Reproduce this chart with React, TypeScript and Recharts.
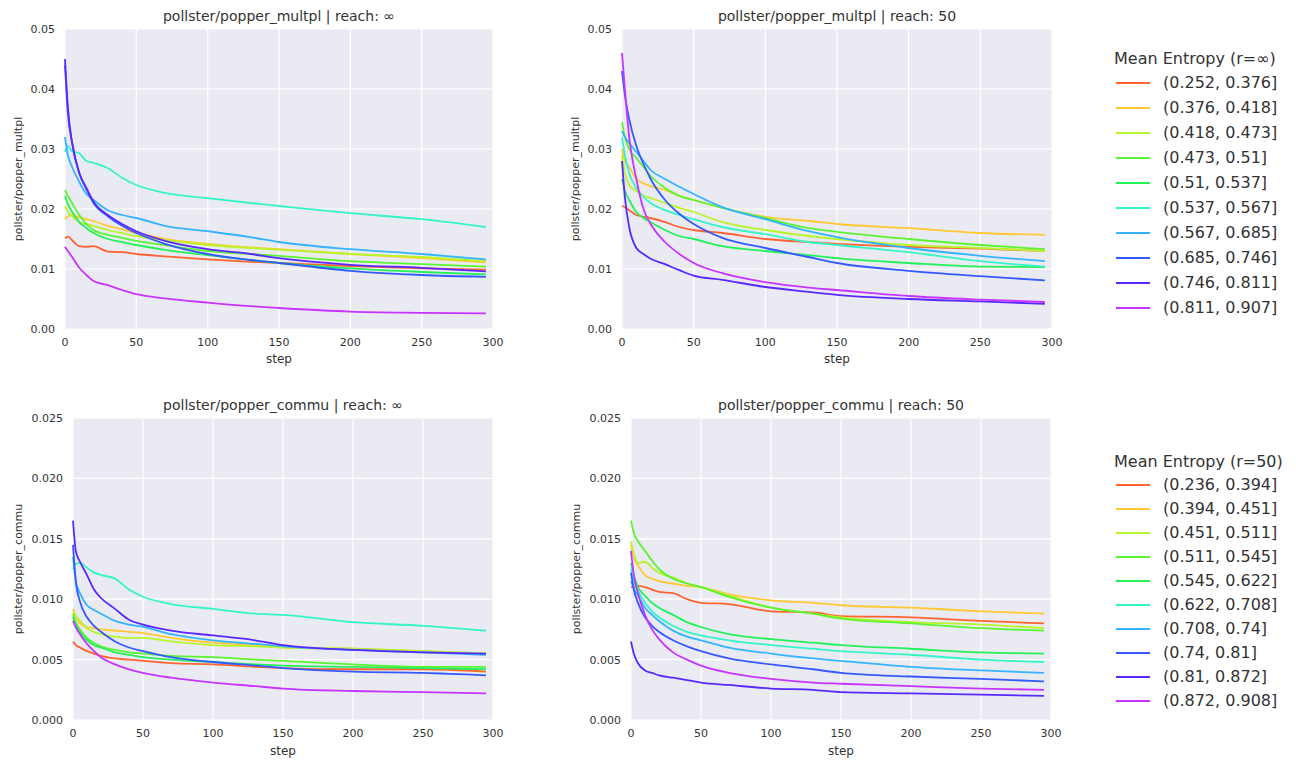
import { CartesianGrid, Line, LineChart, XAxis, YAxis } from 'recharts'

const steps = [0, 2, 5, 10, 15, 20, 30, 40, 50, 70, 100, 130, 150, 200, 250, 295]

const colors = [
  '#ff6430', '#ffc830', '#b8f52a', '#5af530', '#24f05a',
  '#34f5c8', '#34b4ff', '#345aff', '#5a28ff', '#c834ff',
]

const binsInf = [
  '(0.252, 0.376]', '(0.376, 0.418]', '(0.418, 0.473]', '(0.473, 0.51]', '(0.51, 0.537]',
  '(0.537, 0.567]', '(0.567, 0.685]', '(0.685, 0.746]', '(0.746, 0.811]', '(0.811, 0.907]',
]

const bins50 = [
  '(0.236, 0.394]', '(0.394, 0.451]', '(0.451, 0.511]', '(0.511, 0.545]', '(0.545, 0.622]',
  '(0.622, 0.708]', '(0.708, 0.74]', '(0.74, 0.81]', '(0.81, 0.872]', '(0.872, 0.908]',
]

// pollster/popper_multpl, reach ∞
const multplInf = [
  [0.0151, 0.0154, 0.0148, 0.0138, 0.0137, 0.0138, 0.0129, 0.0128, 0.0125, 0.0121, 0.0116, 0.0112, 0.011, 0.0105, 0.0101, 0.0099],
  [0.0183, 0.0188, 0.019, 0.0186, 0.0183, 0.018, 0.0172, 0.0166, 0.016, 0.015, 0.0142, 0.0136, 0.0133, 0.0125, 0.0118, 0.0111],
  [0.0205, 0.0196, 0.0188, 0.0178, 0.0175, 0.0172, 0.0165, 0.016, 0.0155, 0.0148, 0.014, 0.0135, 0.0132, 0.0125, 0.012, 0.0113],
  [0.0232, 0.0222, 0.021, 0.019, 0.0175, 0.0165, 0.0157, 0.0152, 0.0147, 0.014, 0.013, 0.0125, 0.0122, 0.0113, 0.0108, 0.0104],
  [0.0222, 0.0208, 0.0195, 0.0178, 0.0168, 0.016, 0.015, 0.0145, 0.014, 0.0132, 0.0123, 0.0115, 0.011, 0.0101, 0.0095, 0.0091],
  [0.0295, 0.0305, 0.0296, 0.0293, 0.028, 0.0277, 0.0268, 0.0252, 0.024, 0.0227, 0.0218, 0.021, 0.0205, 0.0193, 0.0183, 0.017],
  [0.032, 0.029, 0.027, 0.0245, 0.0225, 0.0215, 0.0198, 0.019, 0.0185, 0.0172, 0.0163, 0.0153, 0.0145, 0.0133, 0.0125, 0.0116],
  [0.044, 0.036, 0.031, 0.026, 0.0233, 0.021, 0.0188, 0.0172, 0.016, 0.0142, 0.0125, 0.0115, 0.011, 0.0097, 0.009, 0.0087],
  [0.045, 0.037, 0.031, 0.026, 0.0235, 0.0212, 0.019, 0.0175, 0.0163, 0.0147, 0.0133, 0.0125, 0.0118, 0.0107, 0.0102, 0.0096],
  [0.0137, 0.013, 0.012, 0.0102, 0.009, 0.008, 0.0073, 0.0065, 0.0058, 0.0051, 0.0044, 0.0038, 0.0035, 0.0029, 0.0027, 0.0026],
]

// pollster/popper_multpl, reach 50
const multpl50 = [
  [0.0205, 0.0203, 0.0198, 0.019, 0.0187, 0.0185, 0.0178, 0.017, 0.0165, 0.016, 0.015, 0.0145, 0.0142, 0.0137, 0.0134, 0.013],
  [0.03, 0.028, 0.027, 0.025, 0.0243, 0.0238, 0.0232, 0.0222, 0.0215, 0.0202, 0.0187, 0.018, 0.0175, 0.0168, 0.016, 0.0157],
  [0.029, 0.026, 0.024, 0.023, 0.0222, 0.0218, 0.021, 0.0202, 0.0195, 0.0178, 0.0165, 0.0155, 0.015, 0.014, 0.0135, 0.013],
  [0.0345, 0.032, 0.03, 0.0285, 0.027, 0.0255, 0.0235, 0.0222, 0.0215, 0.0202, 0.0185, 0.0168, 0.0162, 0.015, 0.014, 0.0133],
  [0.025, 0.023, 0.0215, 0.0195, 0.0185, 0.0178, 0.0165, 0.0155, 0.015, 0.0138, 0.013, 0.0123, 0.0118, 0.011, 0.0104, 0.0103],
  [0.032, 0.029, 0.026, 0.0235, 0.022, 0.021, 0.0198, 0.019, 0.0183, 0.017, 0.0158, 0.0145, 0.014, 0.0128, 0.0113, 0.0104],
  [0.033, 0.032, 0.031, 0.0295, 0.028, 0.0265, 0.025, 0.0237, 0.0225, 0.0203, 0.0183, 0.0163, 0.0153, 0.0135, 0.0122, 0.0113],
  [0.043, 0.039, 0.035, 0.0305, 0.0275, 0.025, 0.0215, 0.0192, 0.0175, 0.0152, 0.0135, 0.012, 0.011, 0.0097, 0.0088, 0.0081],
  [0.028, 0.022, 0.017, 0.0135, 0.0125, 0.0117, 0.0108, 0.0098, 0.0089, 0.0082, 0.007, 0.0062, 0.0057, 0.005, 0.0046, 0.0042],
  [0.046, 0.04, 0.032, 0.025, 0.02, 0.0175, 0.0145, 0.0125, 0.011, 0.0093, 0.0078, 0.0069, 0.0065, 0.0055, 0.0049, 0.0045],
]

// pollster/popper_commu, reach ∞
const commuInf = [
  [0.0065, 0.0062, 0.006, 0.0057, 0.0055, 0.0053, 0.0051, 0.005, 0.0049, 0.0047, 0.0046, 0.0044, 0.0043, 0.0042, 0.0042, 0.004],
  [0.0092, 0.0086, 0.008, 0.0077, 0.0076, 0.0075, 0.0074, 0.0073, 0.0072, 0.0068, 0.0064, 0.0062, 0.006, 0.0059, 0.0057, 0.0055],
  [0.009, 0.0086, 0.0082, 0.0076, 0.0073, 0.0071, 0.0069, 0.0068, 0.0068, 0.0065, 0.0062, 0.0061, 0.006, 0.0059, 0.0057, 0.0055],
  [0.0088, 0.0081, 0.0075, 0.0068, 0.0064, 0.0061, 0.0058, 0.0056, 0.0055, 0.0053, 0.0052, 0.005, 0.0049, 0.0046, 0.0044, 0.0044],
  [0.0085, 0.0079, 0.0073, 0.0066, 0.0062, 0.006, 0.0056, 0.0054, 0.0052, 0.005, 0.0048, 0.0046, 0.0045, 0.0044, 0.0043, 0.0042],
  [0.0125, 0.0129, 0.013, 0.0126, 0.0122, 0.012, 0.0117, 0.0108, 0.0102, 0.0096, 0.0092, 0.0088, 0.0087, 0.0081, 0.0078, 0.0074],
  [0.0135, 0.0115, 0.0105, 0.0095, 0.0091, 0.0088, 0.0082, 0.0079, 0.0077, 0.0071, 0.0066, 0.0063, 0.0061, 0.0058, 0.0056, 0.0054],
  [0.0145, 0.0115, 0.0098, 0.0085, 0.0078, 0.0073, 0.0065, 0.006, 0.0057, 0.0052, 0.0048, 0.0045, 0.0043, 0.004, 0.0039, 0.0037],
  [0.0165, 0.014, 0.0131, 0.012, 0.0108, 0.0101, 0.0092, 0.0083, 0.0079, 0.0074, 0.007, 0.0066, 0.0062, 0.0058, 0.0056, 0.0055],
  [0.0082, 0.0077, 0.0071, 0.0063, 0.0057, 0.0052, 0.0046, 0.0042, 0.0039, 0.0035, 0.0031, 0.0028, 0.0026, 0.0024, 0.0023, 0.0022],
]

// pollster/popper_commu, reach 50
const commu50 = [
  [0.011, 0.011, 0.0111, 0.011, 0.0108, 0.0106, 0.0105, 0.01, 0.0097, 0.0096, 0.009, 0.0089, 0.0086, 0.0085, 0.0082, 0.008],
  [0.0145, 0.0135, 0.0128, 0.012, 0.0117, 0.0115, 0.0113, 0.0111, 0.011, 0.0104, 0.0099, 0.0097, 0.0095, 0.0093, 0.009, 0.0088],
  [0.0148, 0.0138, 0.013, 0.0131, 0.0126, 0.0122, 0.0118, 0.0113, 0.011, 0.0103, 0.0093, 0.0088, 0.0085, 0.0081, 0.0079, 0.0076],
  [0.0165, 0.0155, 0.0148, 0.014, 0.0132, 0.0125, 0.0117, 0.0113, 0.011, 0.0102, 0.0093, 0.0088, 0.0084, 0.008, 0.0076, 0.0074],
  [0.013, 0.012, 0.011, 0.0103, 0.0097, 0.0093, 0.0087, 0.0081, 0.0077, 0.0071, 0.0067, 0.0064, 0.0062, 0.0059, 0.0056, 0.0055],
  [0.0125, 0.0115, 0.0107, 0.0097, 0.009, 0.0085, 0.0078, 0.0073, 0.007, 0.0066, 0.0062, 0.0059, 0.0057, 0.0054, 0.005, 0.0048],
  [0.0115, 0.0109, 0.0103, 0.0093, 0.0087, 0.0082, 0.0074, 0.0069, 0.0066, 0.006, 0.0055, 0.0051, 0.0049, 0.0044, 0.0041, 0.0039],
  [0.0122, 0.0108, 0.0097, 0.0085, 0.0078, 0.0073, 0.0066, 0.0061, 0.0057, 0.0051, 0.0046, 0.0042, 0.0039, 0.0036, 0.0034, 0.0032],
  [0.0065, 0.0055, 0.0047, 0.0041, 0.0039, 0.0037, 0.0035, 0.0033, 0.0031, 0.0029, 0.0026, 0.0025, 0.0023, 0.0022, 0.0021, 0.002],
  [0.014, 0.012, 0.0105, 0.0087, 0.0075, 0.0067, 0.0056, 0.005, 0.0045, 0.0039, 0.0034, 0.0031, 0.003, 0.0028, 0.0026, 0.0025],
]

const xTicks = [0, 50, 100, 150, 200, 250, 300]
const multplTicks = [0, 0.01, 0.02, 0.03, 0.04, 0.05]
const commuTicks = [0, 0.005, 0.01, 0.015, 0.02, 0.025]

const font = '"DejaVu Sans", sans-serif'
const textColor = '#333'

function toRows(series: number[][]) {
  return steps.map((step, i) => {
    const row: Record<string, number> = { step }
    series.forEach((s, k) => {
      row['s' + k] = s[i]
    })
    return row
  })
}

interface PanelProps {
  title: string
  yLabel: string
  series: number[][]
  yTicks: number[]
  digits: number
  left: number
  top: number
  yWidth: number
  margin: { top: number; right: number; bottom: number; left: number }
  xHeight: number
  titleY: number
}

function Panel({ title, yLabel, series, yTicks, digits, left, top, yWidth, margin, xHeight, titleY }: PanelProps) {
  const width = 520
  const height = top === 0 ? 380 : 381
  const plotLeft = left + margin.left + yWidth
  const plotWidth = width - margin.left - yWidth - margin.right
  return (
    <>
      <div
        style={{
          position: 'absolute',
          left: plotLeft,
          width: plotWidth,
          top: titleY - 9,
          lineHeight: '18px',
          textAlign: 'center',
          fontSize: 14,
          fontFamily: font,
          color: textColor,
          whiteSpace: 'nowrap',
        }}
      >
        {title}
      </div>
      <div style={{ position: 'absolute', left, top }}>
        <LineChart width={width} height={height} data={toRows(series)} margin={margin}>
          <CartesianGrid fill='#eaeaf2' stroke='#ffffff' strokeWidth={1.2} horizontalValues={yTicks} verticalValues={xTicks} />
          <XAxis
            dataKey='step'
            type='number'
            domain={[0, 300]}
            ticks={xTicks}
            height={xHeight}
            axisLine={false}
            tickLine={false}
            tickSize={0}
            tickMargin={9}
            tick={{ fill: textColor, fontSize: 11, fontFamily: font }}
            label={{ value: 'step', position: 'insideBottom', offset: 0, fill: textColor, fontSize: 12, fontFamily: font }}
          />
          <YAxis
            type='number'
            domain={[0, yTicks[yTicks.length - 1]]}
            ticks={yTicks}
            width={yWidth}
            axisLine={false}
            tickLine={false}
            tickSize={0}
            tickMargin={10}
            tickFormatter={(v: number) => v.toFixed(digits)}
            tick={{ fill: textColor, fontSize: 11, fontFamily: font }}
            label={{
              value: yLabel,
              angle: -90,
              position: 'insideLeft',
              offset: 3,
              fill: textColor,
              fontSize: 11,
              fontFamily: font,
              style: { textAnchor: 'middle' },
            }}
          />
          {series.map((_, k) => (
            <Line
              key={k}
              type='monotone'
              dataKey={'s' + k}
              stroke={colors[k]}
              strokeWidth={1.8}
              dot={false}
              isAnimationActive={false}
            />
          ))}
        </LineChart>
      </div>
    </>
  )
}

function EntropyLegend({ title, bins, top, rowGap }: { title: string; bins: string[]; top: number; rowGap: number }) {
  return (
    <div style={{ position: 'absolute', left: 1114, top, fontFamily: font, fontSize: 16, color: textColor }}>
      <div style={{ height: 22, lineHeight: '22px', whiteSpace: 'nowrap' }}>{title}</div>
      {bins.map((b, k) => (
        <div key={b} style={{ height: rowGap, lineHeight: rowGap + 'px', display: 'flex', alignItems: 'center', whiteSpace: 'nowrap' }}>
          <span style={{ display: 'inline-block', width: 34, height: 2, background: colors[k], marginLeft: 2, marginRight: 13 }} />
          {b}
        </div>
      ))}
    </div>
  )
}

export default function App() {
  return (
    <div style={{ position: 'absolute', left: 0, top: 0, width: 1296, height: 761, background: '#fff', overflow: 'hidden' }}>
      <Panel
        title='pollster/popper_multpl | reach: ∞'
        yLabel='pollster/popper_multpl'
        series={multplInf}
        yTicks={multplTicks}
        digits={2}
        left={0}
        top={0}
        yWidth={50}
        margin={{ top: 29, right: 27, bottom: 17, left: 15 }}
        xHeight={34}
        titleY={16}
      />
      <Panel
        title='pollster/popper_multpl | reach: 50'
        yLabel='pollster/popper_multpl'
        series={multpl50}
        yTicks={multplTicks}
        digits={2}
        left={560}
        top={0}
        yWidth={50}
        margin={{ top: 29, right: 28, bottom: 17, left: 12 }}
        xHeight={34}
        titleY={16}
      />
      <Panel
        title='pollster/popper_commu | reach: ∞'
        yLabel='pollster/popper_commu'
        series={commuInf}
        yTicks={commuTicks}
        digits={3}
        left={0}
        top={380}
        yWidth={58}
        margin={{ top: 38, right: 27, bottom: 6, left: 15 }}
        xHeight={35}
        titleY={405}
      />
      <Panel
        title='pollster/popper_commu | reach: 50'
        yLabel='pollster/popper_commu'
        series={commu50}
        yTicks={commuTicks}
        digits={3}
        left={560}
        top={380}
        yWidth={58}
        margin={{ top: 38, right: 29, bottom: 6, left: 13 }}
        xHeight={35}
        titleY={405}
      />
      <EntropyLegend title='Mean Entropy (r=∞)' bins={binsInf} top={48} rowGap={25} />
      <EntropyLegend title='Mean Entropy (r=50)' bins={bins50} top={451} rowGap={24} />
    </div>
  )
}
